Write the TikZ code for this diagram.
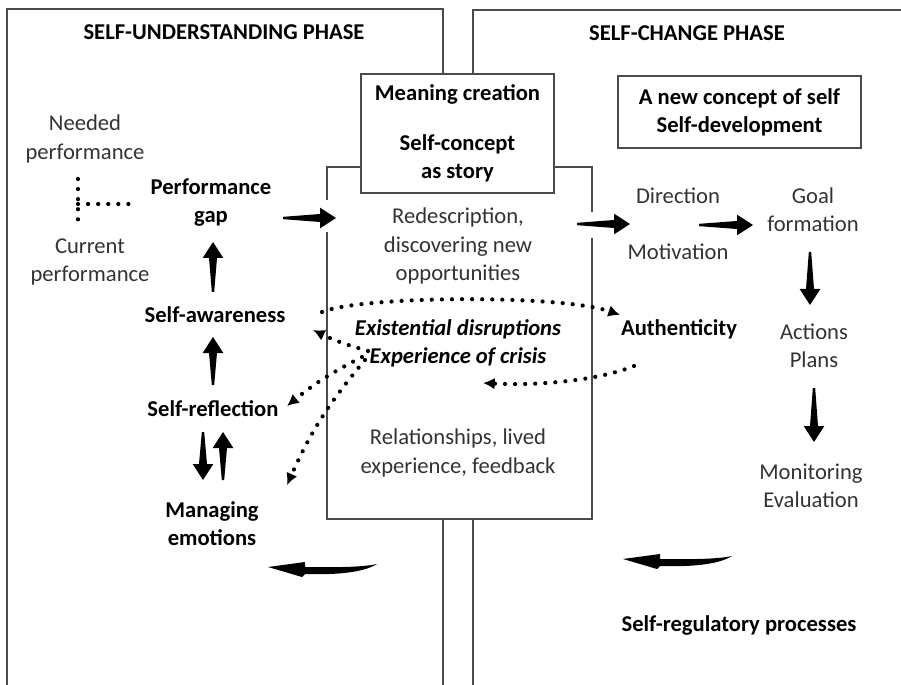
\documentclass[tikz,border=0pt]{standalone}
\usepackage{fontspec}
\setmainfont{Carlito}
\usepackage{xcolor}
\usepackage{tikz}
\usetikzlibrary{calc}
\usetikzlibrary{arrows.meta}

\definecolor{txtgray}{HTML}{333333}
\definecolor{linegray}{HTML}{4A4A4A}

% filled wedge arrow from #1 (thin tail) to #2 (tip)
\newcommand{\fatarrow}[2]{%
  \coordinate (fa-s) at (#1);
  \coordinate (fa-e) at (#2);
  \coordinate (fa-h) at ($(fa-e)!0.48cm!(fa-s)$);
  \fill[black] ($(fa-s)!0.035cm!90:(fa-e)$) -- ($(fa-h)!0.12cm!-90:(fa-s)$)
    -- ($(fa-h)!0.31cm!-90:(fa-s)$) -- (fa-e) -- ($(fa-h)!0.31cm!90:(fa-s)$)
    -- ($(fa-h)!0.12cm!90:(fa-s)$) -- ($(fa-s)!0.035cm!-90:(fa-e)$) -- cycle;}

% bent arrow pointing left, tip at #1
\newcommand{\bentarrow}[1]{%
  \begin{scope}[shift={(#1)}]
    \fill[black] (0,0) -- (37,-5) -- (37,0) .. controls (60,0) and (90,1) .. (109,-3)
      .. controls (95,6) and (65,8) .. (37,7) -- (34,10) -- cycle;
  \end{scope}}

\tikzset{
  plain/.style={text=txtgray, align=center, font=\fontsize{19.3}{24}\selectfont},
  strong/.style={text=black, align=center, font=\fontsize{19.3}{24}\selectfont\bfseries},
  frame/.style={draw=linegray, line width=0.9pt},
  dotline/.style={line width=3.6pt, line cap=round, dash pattern=on 0pt off 8.6pt},
  dotarrow/.style={dotline, -{Latex[length=10pt,width=10pt]}},
}

\begin{document}
\begin{tikzpicture}[x=0.03cm,y=-0.03cm]
  \useasboundingbox (0,0) rectangle (901,685);

  % the two phases
  \draw[frame] (7,685) -- (7,9) -- (443,9) -- (443,685);
  \draw[frame] (473,685) -- (473,10) -- (901,10);
  \node[strong] (underphase) at (224,32) {SELF-UNDERSTANDING PHASE};
  \node[strong] (changephase) at (687,33) {SELF-CHANGE PHASE};

  % boxes
  \node[frame, fill=white, minimum width=7.95cm, minimum height=10.56cm] (midbox) at (459.5,343) {};
  \node[frame, fill=white, minimum width=5.79cm, minimum height=3.57cm, strong] (meaning)
        at (457.5,133.5) {Meaning creation\\[0.66cm]Self-concept\\as story};
  \node[frame, minimum width=7.29cm, minimum height=2.16cm, strong] (newself) at (739.5,112)
        {A new concept of self\\Self-development};

  % self-understanding side
  \node[plain] (needed) at (85,139) {Needed\\performance};
  \node[plain] (current) at (90,262) {Current\\performance};
  \node[strong] (perfgap) at (211,203) {Performance\\gap};
  \node[strong] (selfaware) at (215,315) {Self-awareness};
  \node[strong] (selfrefl) at (213,409) {Self-reflection};
  \node[strong] (managing) at (212,524) {Managing\\emotions};
  \draw[dotline] (78,179) -- (78,225);
  \draw[dotline] (78,204) -- (133,204);

  % middle
  \node[plain] (redesc) at (458,246) {Redescription,\\discovering new\\opportunities};
  \node[strong, font=\fontsize{19.3}{24}\selectfont\bfseries\itshape] (crisis) at (458,343)
        {Existential disruptions\\Experience of crisis};
  \node[plain] (relations) at (458,453) {Relationships, lived\\experience, feedback};

  % self-change side
  \node[plain] (direction) at (678,196) {Direction};
  \node[plain] (motivation) at (678,252) {Motivation};
  \node[plain] (goal) at (813,210) {Goal\\formation};
  \node[strong] (authentic) at (679,329) {Authenticity};
  \node[plain] (actions) at (814,346) {Actions\\Plans};
  \node[plain] (monitor) at (811,486) {Monitoring\\Evaluation};
  \node[strong] (selfreg) at (739,625) {Self-regulatory processes};

  % gaps in the box edges under the arrows
  \fill[white] ($(midbox.west)+(-5,-143)$) rectangle ($(midbox.west)+(5,-111)$);
  \fill[white] ($(midbox.east)+(-5,-131)$) rectangle ($(midbox.east)+(5,-105)$);

  % main flow
  \fatarrow{$(perfgap)+(72,15)$}{$(redesc)+(-122,-28)$}
  \fatarrow{$(redesc)+(119,-22)$}{$(direction)+(-48,28)$}
  \fatarrow{$(direction)+(21,29)$}{$(goal)+(-60,15)$}
  \fatarrow{$(goal)+(-3,42)$}{$(actions)+(-4,-41)$}
  \fatarrow{$(actions)+(0,42)$}{$(monitor)+(3,-44)$}
  \fatarrow{$(selfaware)+(-2,-23)$}{$(perfgap)+(2,39)$}
  \fatarrow{$(selfrefl)+(0,-24)$}{$(selfaware)+(-2,22)$}
  \fatarrow{$(selfrefl)+(-10,23)$}{$(managing)+(-9,-44)$}
  \fatarrow{$(managing)+(11,-44)$}{$(selfrefl)+(10,23)$}

  % dotted links
  \draw[dotarrow] ($(selfaware)+(107,-3)$) .. controls (360,296) and (560,294) .. ($(authentic)+(-59,-14)$);
  \draw[dotarrow] ($(crisis)+(-90,8)$) to[bend left=5] ($(selfaware)+(98,15)$);
  \draw[dotarrow] ($(crisis)+(-96,14)$) to[bend right=6] ($(selfrefl)+(74,-3)$);
  \draw[dotarrow] ($(crisis)+(-93,17)$) to[bend right=8] ($(managing)+(75,-39)$);
  \draw[dotarrow] ($(authentic)+(-45,37)$) .. controls (600,380) and (540,386) .. ($(crisis)+(25,40)$);

  % self-regulatory loop
  \bentarrow{$(managing)+(56,43)$}
  \bentarrow{$(selfreg)+(-116,-66)$}
\end{tikzpicture}
\end{document}
